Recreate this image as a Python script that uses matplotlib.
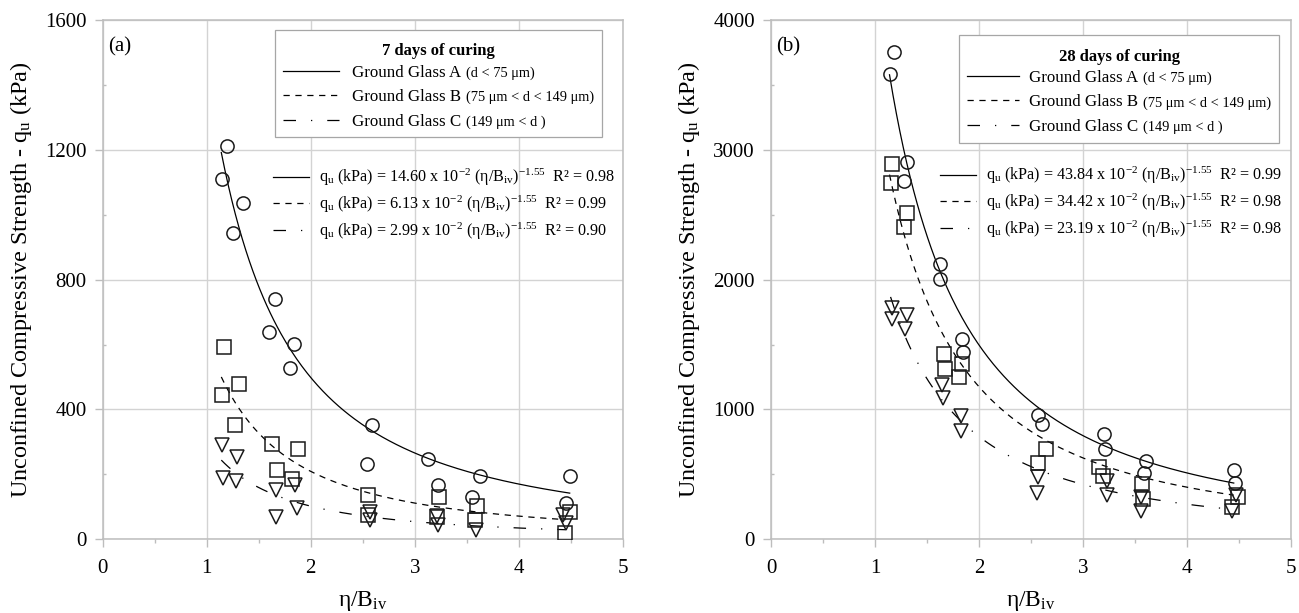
import matplotlib
matplotlib.use("Agg")
import matplotlib.pyplot as plt
import numpy as np
from matplotlib.lines import Line2D
from matplotlib.offsetbox import AnchoredOffsetbox, VPacker, HPacker, TextArea, DrawingArea
from matplotlib.ticker import MultipleLocator

plt.rcParams["font.family"] = "Liberation Serif"
plt.rcParams["mathtext.fontset"] = "custom"
plt.rcParams["mathtext.rm"] = "Liberation Serif"
plt.rcParams["mathtext.it"] = "Liberation Serif:italic"
plt.rcParams["mathtext.bf"] = "Liberation Serif:bold"

# 7 days of curing - measured points (eta/Biv, qu kPa)
x7_a = [1.19, 1.15, 1.35, 1.25, 1.66, 1.60, 1.84, 1.80, 2.59, 2.54, 3.13, 3.22, 3.63, 3.55, 4.49, 4.45]
q7_a = [1213, 1111, 1037, 945, 739, 639, 602, 528, 352, 232, 249, 167, 195, 129, 195, 111]
x7_b = [1.17, 1.31, 1.15, 1.27, 1.63, 1.88, 1.68, 1.82, 2.55, 2.55, 3.23, 3.21, 3.60, 3.58, 4.49, 4.44]
q7_b = [593, 480, 444, 353, 295, 277, 213, 185, 138, 75, 131, 70, 102, 59, 83, 18]
x7_c = [1.15, 1.29, 1.16, 1.28, 1.67, 1.85, 1.87, 1.67, 2.57, 2.57, 3.21, 3.22, 3.59, 4.43, 4.45]
q7_c = [290, 254, 188, 180, 152, 167, 95, 70, 85, 59, 72, 44, 29, 75, 49]

# 28 days of curing
x28_a = [1.18, 1.14, 1.31, 1.28, 1.63, 1.63, 1.84, 1.85, 2.57, 2.61, 3.20, 3.21, 3.61, 3.59, 4.45, 4.46]
q28_a = [3750, 3584, 2904, 2763, 2122, 2007, 1546, 1443, 961, 892, 815, 692, 605, 512, 533, 430]
x28_b = [1.16, 1.15, 1.31, 1.28, 1.66, 1.67, 1.84, 1.81, 2.64, 2.57, 3.15, 3.19, 3.57, 3.58, 4.49, 4.43]
q28_b = [2891, 2745, 2515, 2404, 1425, 1315, 1353, 1248, 692, 589, 558, 489, 425, 308, 328, 251]
x28_c = [1.16, 1.16, 1.31, 1.29, 1.64, 1.65, 1.83, 1.83, 2.57, 2.56, 3.23, 3.23, 3.56, 3.56, 4.47, 4.43]
q28_c = [1784, 1700, 1730, 1623, 1192, 1089, 948, 833, 481, 358, 451, 341, 328, 220, 341, 218]

# fitted power laws as printed: qu = coef x 10^-2 (eta/Biv)^-1.55
coef7 = [14.60, 6.13, 2.99]
r2_7 = ["0.98", "0.99", "0.90"]
coef28 = [43.84, 34.42, 23.19]
r2_28 = ["0.99", "0.98", "0.98"]
fit_x7 = [(1.14, 4.49), (1.14, 4.45), (1.14, 4.45)]
fit_x28 = [(1.14, 4.45), (1.14, 4.45), (1.15, 4.45)]
expo = -1.55

groups = ["Ground Glass A", "Ground Glass B", "Ground Glass C"]
sizes = ["(d < 75 μm)", "(75 μm < d < 149 μm)", "(149 μm < d )"]

styles = ["-", (0, (5, 4.5)), (0, (10, 12, 1, 12))]
markers = ["o", "s", "v"]
grid_c = "#d3d3d3"
axis_c = "#bdbdbd"


def key_box(ax, title, anchor, hlen, hsep):
    rows = []
    for ls, main, small in zip(styles, groups, sizes):
        da = DrawingArea(hlen, 9, 0, 0)
        da.add_artist(Line2D([0, hlen], [4.3, 4.3], color="k", lw=0.9, linestyle=ls))
        txt = HPacker(children=[TextArea(main, textprops=dict(size=12.2)),
                                TextArea(small, textprops=dict(size=10.4))],
                      align="baseline", pad=0, sep=3.5)
        rows.append(HPacker(children=[da, txt], align="baseline", pad=0, sep=hsep))
    rows_box = VPacker(children=rows, align="left", pad=0, sep=5.8)
    head = TextArea(title, textprops=dict(size=12, weight="bold"))
    spacer = DrawingArea(1, 0.8, 0, 0)
    box = VPacker(children=[spacer, head, rows_box], align="center", pad=0, sep=3.4)
    anch = AnchoredOffsetbox(loc="upper left", child=box, pad=0.55, borderpad=0,
                             frameon=True, bbox_to_anchor=anchor,
                             bbox_transform=ax.transAxes)
    anch.patch.set_edgecolor("#a6a6a6")
    anch.patch.set_linewidth(0.9)
    ax.add_artist(anch)


def panel(ax, xs, qs, coefs, r2s, fit_x, ymax, ystep, tag, title, key_anchor, eq_anchor, hlen, hsep):
    for x, q, m in zip(xs, qs, markers):
        ax.plot(x, q, linestyle="none", marker=m, markersize=9.5, markerfacecolor="none",
                markeredgecolor="#1a1a1a", markeredgewidth=1.1, zorder=3)
    handles = []
    labels = []
    for c, r2, (x0, x1), ls in zip(coefs, r2s, fit_x, styles):
        xx = np.linspace(x0, x1, 200)
        # curve in kPa as drawn in the figure
        ln, = ax.plot(xx, c * 100 * xx ** expo, color="k", lw=0.9, linestyle=ls, zorder=2)
        handles.append(ln)
        labels.append("q$_\\mathrm{u}$ (kPa) = %.2f x 10$^{\\mathrm{-2}}$ (η/B$_\\mathrm{iv}$)$^{\\mathrm{-1.55}}$  R² = %s" % (c, r2))

    ax.set_xlim(0, 5)
    ax.set_ylim(0, ymax)
    ax.xaxis.set_major_locator(MultipleLocator(1))
    ax.xaxis.set_minor_locator(MultipleLocator(0.5))
    ax.yaxis.set_major_locator(MultipleLocator(ystep))
    ax.yaxis.set_minor_locator(MultipleLocator(ystep / 2))
    ax.grid(True, which="major", color=grid_c, lw=1.0, zorder=0)
    ax.set_axisbelow(True)
    for s in ax.spines.values():
        s.set_color(axis_c)
        s.set_linewidth(1.1)
    ax.tick_params(axis="both", which="both", color=axis_c, width=1.0, labelsize=15)
    ax.tick_params(axis="y", which="major", direction="out", length=5.5, pad=6)
    ax.tick_params(axis="y", which="minor", direction="in", length=2.5)
    ax.tick_params(axis="x", which="major", direction="out", length=6, pad=8)
    ax.tick_params(axis="x", which="minor", direction="out", length=3)

    ax.set_xlabel("η/B$_\\mathrm{iv}$", fontsize=17)
    ax.set_ylabel("Unconfined Compressive Strength - q$_\\mathrm{u}$ (kPa)", fontsize=17.5)
    ax.xaxis.set_label_coords(0.5, -0.095)
    ax.yaxis.set_label_coords(-0.133, 0.5)
    ax.text(0.01, 0.967, tag, transform=ax.transAxes, fontsize=15, va="top", ha="left")

    key_box(ax, title, key_anchor, hlen, hsep)
    ax.legend(handles, labels, loc="upper left", bbox_to_anchor=eq_anchor, frameon=False,
              fontsize=11.6, handlelength=2.25, handletextpad=0.6, labelspacing=0.34,
              borderaxespad=0, borderpad=0)


fig = plt.figure(figsize=(12.99, 6.13), dpi=100)
ax1 = fig.add_axes([0.0791, 0.1202, 0.4003, 0.8471])
ax2 = fig.add_axes([0.5935, 0.1202, 0.4003, 0.8471])

panel(ax1, [x7_a, x7_b, x7_c], [q7_a, q7_b, q7_c], coef7, r2_7, fit_x7, 1600, 400,
      "(a)", "7 days of curing", (0.331, 0.981), (0.3275, 0.717), 41, 9)
panel(ax2, [x28_a, x28_b, x28_c], [q28_a, q28_b, q28_c], coef28, r2_28, fit_x28, 4000, 1000,
      "(b)", "28 days of curing", (0.362, 0.971), (0.325, 0.721), 37.5, 7.5)

fig.savefig("out.png", dpi=100)
